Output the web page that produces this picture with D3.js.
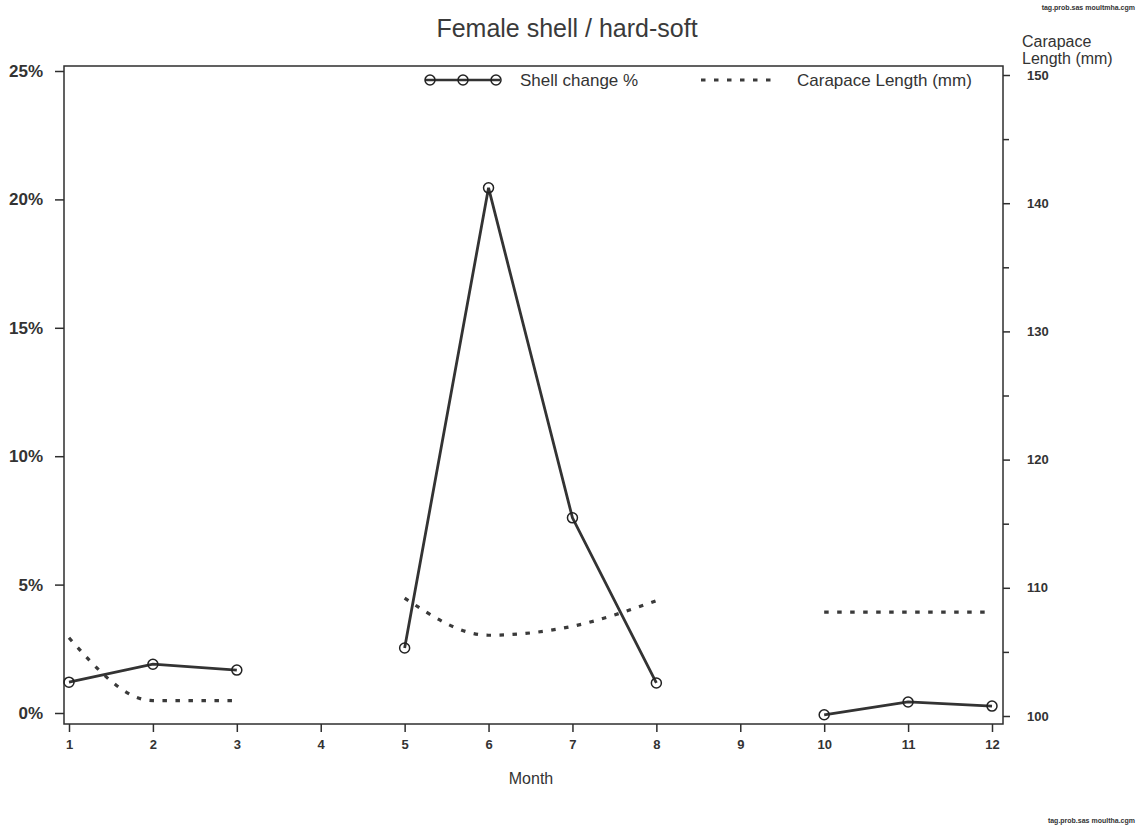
<!DOCTYPE html>
<html>
<head>
<meta charset="utf-8">
<script src="https://cdn.jsdelivr.net/npm/d3@7"></script>
<style>
  html, body { margin: 0; padding: 0; background: #fff; }
  svg { display: block; font-family: "Liberation Sans", Arial, Helvetica, sans-serif; }
</style>
</head>
<body>
<svg id="chart" width="1139" height="825"></svg>
<script>
// Monthly shell change (% hard-soft) and mean carapace length, females
const months = [1, 2, 3, 4, 5, 6, 7, 8, 9, 10, 11, 12];
const shellMonths = [[1, 2, 3], [5, 6, 7, 8], [10, 11, 12]];
const shellPct = [[1.2, 1.9, 1.67], [2.53, 20.45, 7.6, 1.17], [-0.07, 0.43, 0.27]];
const lengthMonths = [[1, 2, 3], [5, 6, 7, 8], [10, 11, 12]];
const lengthMm = [[106.1, 101.2, 101.2], [109.2, 106.3, 107.0, 109.0], [108.1, 108.1, 108.1]];
const pctTicks = [0, 5, 10, 15, 20, 25];
const mmTicks = [100, 110, 120, 130, 140, 150];
const mmMinorTicks = [105, 115, 125, 135, 145];

const svg = d3.select("#chart");
const ink = "#2e2e2e";

const frame = { left: 64, right: 1003, top: 66, bottom: 724 };

const x = d3.scaleLinear().domain([1, 12]).range([69, 992]);
const yPct = d3.scaleLinear().domain([0, 25]).range([713, 71]);
const yMm = d3.scaleLinear().domain([100, 150]).range([716, 75]);

// Title
svg.append("text")
  .attr("x", 567).attr("y", 37)
  .attr("text-anchor", "middle")
  .attr("font-size", 25).attr("fill", "#3a3a3a")
  .text("Female shell / hard-soft");

// File tags
svg.append("text").attr("x", 1135).attr("y", 10).attr("text-anchor", "end")
  .attr("font-size", 7).attr("font-weight", "bold").attr("fill", "#333")
  .text("tag.prob.sas  moultmha.cgm");
svg.append("text").attr("x", 1135).attr("y", 823).attr("text-anchor", "end")
  .attr("font-size", 7).attr("font-weight", "bold").attr("fill", "#333")
  .text("tag.prob.sas  moultha.cgm");

// Frame
svg.append("rect")
  .attr("x", frame.left).attr("y", frame.top)
  .attr("width", frame.right - frame.left).attr("height", frame.bottom - frame.top)
  .attr("fill", "none").attr("stroke", ink).attr("stroke-width", 1.5);

// Left axis (percent)
const leftAxis = svg.append("g")
  .attr("transform", `translate(${frame.left},0)`)
  .call(d3.axisLeft(yPct).tickValues(pctTicks).tickSize(9).tickPadding(12)
    .tickFormat(d => d + "%"));
leftAxis.select(".domain").remove();
leftAxis.selectAll("line").attr("stroke", ink).attr("stroke-width", 1.5);
leftAxis.selectAll("text").attr("font-size", 17).attr("font-weight", "bold")
  .attr("fill", "#333").attr("font-family", "Liberation Sans, Arial, sans-serif");

// Right axis (carapace length)
const rightAxis = svg.append("g")
  .attr("transform", `translate(${frame.right},0)`)
  .call(d3.axisRight(yMm).tickValues(mmTicks).tickSize(7).tickPadding(17));
rightAxis.select(".domain").remove();
rightAxis.selectAll("line").attr("stroke", ink).attr("stroke-width", 1.5);
rightAxis.selectAll("text").attr("font-size", 13).attr("font-weight", "bold")
  .attr("fill", "#333").attr("font-family", "Liberation Sans, Arial, sans-serif");
const rightMinor = svg.append("g")
  .attr("transform", `translate(${frame.right},0)`)
  .call(d3.axisRight(yMm).tickValues(mmMinorTicks).tickSize(6).tickFormat(""));
rightMinor.select(".domain").remove();
rightMinor.selectAll("line").attr("stroke", ink).attr("stroke-width", 1.5);

svg.append("text").attr("x", 1022).attr("y", 47)
  .attr("font-size", 16).attr("fill", "#333").text("Carapace");
svg.append("text").attr("x", 1022).attr("y", 64)
  .attr("font-size", 16).attr("fill", "#333").text("Length  (mm)");

// Bottom axis (month)
const bottomAxis = svg.append("g")
  .attr("transform", `translate(0,${frame.bottom})`)
  .call(d3.axisBottom(x).tickValues(months).tickSize(8).tickPadding(8)
    .tickFormat(d3.format("d")));
bottomAxis.select(".domain").remove();
bottomAxis.selectAll("line").attr("stroke", ink).attr("stroke-width", 1.5);
bottomAxis.selectAll("text").attr("font-size", 13).attr("font-weight", "bold")
  .attr("fill", "#333").attr("font-family", "Liberation Sans, Arial, sans-serif");

svg.append("text").attr("x", 531).attr("y", 784).attr("text-anchor", "middle")
  .attr("font-size", 16).attr("fill", "#333").text("Month");

// Carapace length (dashed, smoothed)
const lenLine = d3.line()
  .x(d => x(d[0])).y(d => yMm(d[1]))
  .curve(d3.curveMonotoneX);
lengthMonths.forEach((ms, i) => {
  const pts = ms.map((m, j) => [m, lengthMm[i][j]]);
  svg.append("path").datum(pts)
    .attr("d", lenLine)
    .attr("fill", "none").attr("stroke", "#3a3a3a")
    .attr("stroke-width", 3.2).attr("stroke-dasharray", "4.5 8.5");
});

// Shell change % (solid with circles)
const pctLine = d3.line().x(d => x(d[0])).y(d => yPct(d[1]));
shellMonths.forEach((ms, i) => {
  const pts = ms.map((m, j) => [m, shellPct[i][j]]);
  svg.append("path").datum(pts)
    .attr("d", pctLine)
    .attr("fill", "none").attr("stroke", "#333").attr("stroke-width", 2.8);
  svg.selectAll(null).data(pts).enter().append("circle")
    .attr("cx", d => x(d[0])).attr("cy", d => yPct(d[1]))
    .attr("r", 5).attr("fill", "none").attr("stroke", "#222").attr("stroke-width", 1.5);
});

// Legend
const legY = 80;
const legShell = [[425, legY], [500, legY]];
svg.append("path").attr("d", d3.line()(legShell))
  .attr("stroke", "#333").attr("stroke-width", 2.6).attr("fill", "none");
[430, 463, 496].forEach(cx => {
  svg.append("circle").attr("cx", cx).attr("cy", legY).attr("r", 5)
    .attr("fill", "none").attr("stroke", "#222").attr("stroke-width", 1.5);
});
svg.append("text").attr("x", 520).attr("y", legY + 6)
  .attr("font-size", 17).attr("fill", "#333").text("Shell change %");
svg.append("path").attr("d", d3.line()([[701, legY], [774, legY]]))
  .attr("stroke", "#3a3a3a").attr("stroke-width", 3.2).attr("stroke-dasharray", "4.5 8.5")
  .attr("fill", "none");
svg.append("text").attr("x", 797).attr("y", legY + 6)
  .attr("font-size", 17).attr("fill", "#333").text("Carapace Length (mm)");
</script>
</body>
</html>
